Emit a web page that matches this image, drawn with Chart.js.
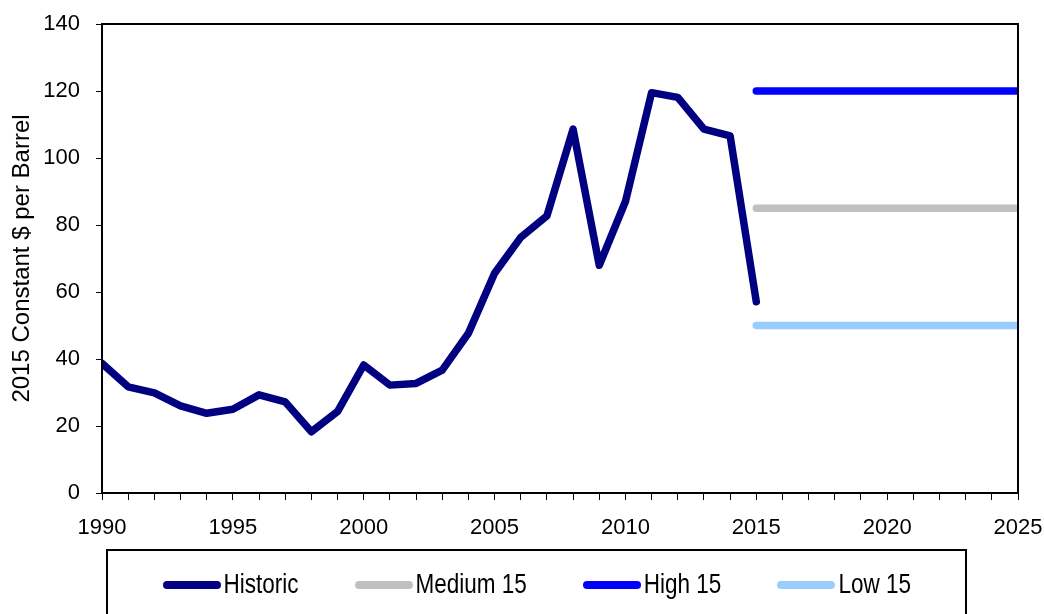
<!DOCTYPE html>
<html>
<head>
<meta charset="utf-8">
<script src="https://cdn.jsdelivr.net/npm/chart.js@4/dist/chart.umd.min.js"></script>
<style>
html,body{margin:0;padding:0;background:#fff;}
#wrap{position:relative;width:1044px;height:614px;overflow:hidden;background:#fff;}
#c{position:absolute;left:0;top:0;}
#legend{position:absolute;left:106px;top:549px;width:861px;height:90px;border:2.5px solid #000;box-sizing:border-box;}
#legend .row{position:absolute;left:54.5px;top:18.5px;height:30px;display:flex;align-items:center;column-gap:56px;
  font-family:"Liberation Sans",Arial,sans-serif;font-size:22.5px;color:#000;line-height:30px;white-space:nowrap;}
#legend .item{display:flex;align-items:center;}
#legend .sw{display:inline-block;width:58px;height:8px;border-radius:4px;margin-right:3px;}
#legend .tx{display:inline-block;transform:scaleY(1.2);transform-origin:50% 50%;}
</style>
</head>
<body>
<div id="wrap">
  <canvas id="c" width="1044" height="614"></canvas>
  <div id="legend"><div class="row" id="legendRow"></div></div>
</div>
<script>
// ---- data ----
const historicYears = [1990,1991,1992,1993,1994,1995,1996,1997,1998,1999,2000,2001,2002,2003,2004,2005,2006,2007,2008,2009,2010,2011,2012,2013,2014,2015];
const historicValues = [38.7,31.7,29.9,26.0,23.8,25.0,29.3,27.2,18.3,24.3,38.2,32.2,32.7,36.7,47.7,65.6,76.3,82.7,108.6,68.0,87.0,119.5,118.1,108.6,106.6,57.1];
const scenarioYears = [2015,2025];
const medium15 = [85,85];
const high15 = [120,120];
const low15 = [50,50];
const seriesNames = ["Historic","Medium 15","High 15","Low 15"];
const seriesColors = ["#000080","#C0C0C0","#0000FF","#99CCFF"];
const yTicks = [0,20,40,60,80,100,120,140];
const xLabelYears = [1990,1995,2000,2005,2010,2015,2020,2025];
const yTitle = "2015 Constant $ per Barrel";

const toPts = (xs, ys) => xs.map((x,i)=>({x:x,y:ys[i]}));
const seriesData = [
  toPts(historicYears, historicValues),
  toPts(scenarioYears, medium15),
  toPts(scenarioYears, high15),
  toPts(scenarioYears, low15)
];

const frame = {
  id:'frame',
  afterDraw(chart){
    const {ctx, chartArea:a} = chart;
    ctx.save();
    ctx.strokeStyle = '#000';
    ctx.lineWidth = 2;
    ctx.strokeRect(a.left, a.top, a.right - a.left, a.bottom - a.top);
    ctx.restore();
  }
};

const tickFont = {family:'"Liberation Sans", Arial, sans-serif', size:22};
const zeroPad = (s)=>{ s.paddingLeft = 0; s.paddingRight = 0; s.paddingTop = 0; s.paddingBottom = 0; };

new Chart(document.getElementById('c'), {
  type:'line',
  data:{
    datasets: seriesNames.map((n,i)=>({
      label:n,
      data:seriesData[i],
      borderColor:seriesColors[i],
      backgroundColor:seriesColors[i],
      borderWidth:7.5,
      borderCapStyle:'round',
      borderJoinStyle:'round',
      pointRadius:0,
      tension:0,
      fill:false
    }))
  },
  options:{
    responsive:false,
    animation:false,
    events:[],
    layout:{padding:{top:24,right:26,left:0,bottom:0}},
    plugins:{legend:{display:false},tooltip:{enabled:false}},
    scales:{
      x:{
        type:'linear', min:1990, max:2025,
        afterFit(s){ s.height = 121; zeroPad(s); },
        grid:{drawOnChartArea:false, drawTicks:true, tickLength:7, color:'#000', lineWidth:1},
        border:{display:true, color:'#000', width:2},
        ticks:{
          stepSize:1, autoSkip:false, maxRotation:0, padding:15, color:'#000', font:tickFont,
          callback:(v)=> xLabelYears.includes(v) ? String(v) : ''
        }
      },
      y:{
        min:0, max:140,
        afterFit(s){ s.width = 102; zeroPad(s); },
        afterBuildTicks(s){ s.ticks = yTicks.map(v=>({value:v})); },
        grid:{drawOnChartArea:false, drawTicks:true, tickLength:6, color:'#000', lineWidth:1},
        border:{display:true, color:'#000', width:2},
        ticks:{stepSize:20, padding:16, color:'#000', font:tickFont, callback:(v)=>String(v)},
        title:{display:true, text:yTitle, color:'#000', font:{family:'"Liberation Sans", Arial, sans-serif', size:24}, padding:{top:8,bottom:0}}
      }
    }
  },
  plugins:[frame]
});

// legend (HTML)
const row = document.getElementById('legendRow');
seriesNames.forEach((n,i)=>{
  const it = document.createElement('div'); it.className='item';
  const sw = document.createElement('span'); sw.className='sw'; sw.style.background = seriesColors[i];
  const tx = document.createElement('span'); tx.className='tx'; tx.textContent = n;
  it.appendChild(sw); it.appendChild(tx); row.appendChild(it);
});
</script>
</body>
</html>
